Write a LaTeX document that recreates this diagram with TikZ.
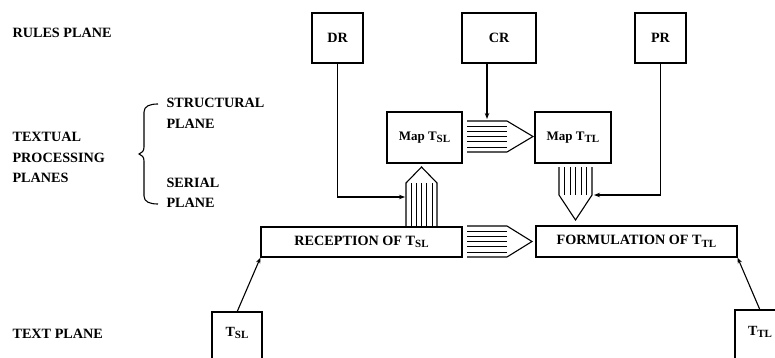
\documentclass[tikz,border=0pt]{standalone}
\usepackage{fontspec}
\setmainfont{Liberation Serif}
\usetikzlibrary{arrows.meta,calc}
\newcommand{\Tsub}[1]{T\raisebox{-0.4ex}{\fontsize{11}{11}\selectfont #1}}
\begin{document}
\begin{tikzpicture}[x=1pt,y=-1pt, line width=1.1pt,
  box/.style={draw, line width=1.1pt, inner sep=0pt, font=\fontsize{14.2}{15}\selectfont\bfseries},
  mapbox/.style={box, font=\fontsize{13}{14}\selectfont\bfseries},
  lbl/.style={anchor=west, inner sep=0pt, font=\fontsize{14.2}{15}\selectfont\bfseries},
  txt/.style={inner sep=0pt, font=\fontsize{14}{15}\selectfont\bfseries},
  arr/.style={-{Stealth[length=6pt,width=4.5pt]}, line width=1.1pt},
  blockarrow/.style={line width=1.1pt, line join=miter},
  stripe/.style={line width=0.9pt}]
\useasboundingbox (0,0) rectangle (775,358);

% left labels
\node[lbl] (rules) at (12,33) {RULES PLANE};
\node[lbl] (textual) at (12,137) {TEXTUAL};
\node[lbl] (processing) at (12,158) {PROCESSING};
\node[lbl] (planes) at (12,178) {PLANES};
\node[lbl] (structural) at (166,103) {STRUCTURAL};
\node[lbl] (plane1) at (166,124) {PLANE};
\node[lbl] (serial) at (166,183) {SERIAL};
\node[lbl] (plane2) at (166,203) {PLANE};
\node[lbl] (textplane) at (12,334) {TEXT PLANE};

% brace
\draw (158,104) .. controls (150,104) and (144,106) .. (144,112) -- (144,147)
  .. controls (144,151) and (142,153) .. (139,154)
  .. controls (142,155) and (144,157) .. (144,161) -- (144,196)
  .. controls (144,202) and (150,204) .. (158,204);

% rule boxes
\node[box, minimum width=51pt, minimum height=50pt] (dr) at (337.5,38) {DR};
\node[box, minimum width=74pt, minimum height=50pt] (cr) at (499,38) {CR};
\node[box, minimum width=51pt, minimum height=50pt] (pr) at (660.5,38) {PR};

% structural plane boxes
\node[mapbox, minimum width=75pt, minimum height=51pt] (mapsl) at (424.5,137.5) {Map \Tsub{SL}};
\node[mapbox, minimum width=76pt, minimum height=51pt] (maptl) at (573,137.5) {Map \Tsub{TL}};

% serial plane boxes
\node[box, minimum width=201pt, minimum height=30pt] (rec) at (361.5,242) {RECEPTION OF \Tsub{SL}};
\node[box, minimum width=201pt, minimum height=31pt] (form) at (636.5,241.5) {FORMULATION OF \Tsub{TL}};

% text plane boxes (cut by the lower edge)
\draw (212,358) -- (212,312) -- (262,312) -- (262,358);
\node[txt] (tsl) at (237,333) {\Tsub{SL}};
\draw (735,358) -- (735,310) -- (775,310);
\node[txt] (ttl) at (760,332) {\Tsub{TL}};
\coordinate (tsltop) at (237,312);
\coordinate (ttltop) at (760,310);

% striped block arrows
% upper horizontal: Map TSL -> Map TTL
\draw[blockarrow] (467,121) -- (507,121) -- (533,136.5) -- (507,152) -- (467,152);
\foreach \y in {126.2,131.4,136.6,141.8,147} \draw[stripe] (467,\y) -- (507,\y);
% lower horizontal: RECEPTION -> FORMULATION
\draw[blockarrow] (467,226) -- (507,226) -- (532,241.5) -- (507,257) -- (467,257);
\foreach \y in {231.2,236.4,241.6,246.8,252} \draw[stripe] (467,\y) -- (507,\y);
% up: RECEPTION -> Map TSL
\draw[blockarrow] (406,227) -- (406,183) -- (421.5,167) -- (437,183) -- (437,227);
\foreach \x in {411.2,416.4,421.6,426.8,432} \draw[stripe] (\x,183) -- (\x,227);
% down: Map TTL -> FORMULATION
\draw[blockarrow] (559,167) -- (559,195) -- (575.5,220) -- (592,195) -- (592,167);
\foreach \x in {564.5,570,575.5,581,586.5} \draw[stripe] (\x,167) -- (\x,195);

% rule connectors
\coordinate (upw) at (405,197);
\coordinate (dne) at (594,195);
\coordinate (crin) at (487,119);
\draw[arr] (dr.south) |- (upw);
\draw[arr] (pr.south) |- (dne);
\draw[arr] (cr.south -| crin) -- (crin);

% text plane connectors
\draw[arr] (tsltop) -- (rec.south west);
\draw[arr] (ttltop) -- (form.south east);
\end{tikzpicture}
\end{document}
